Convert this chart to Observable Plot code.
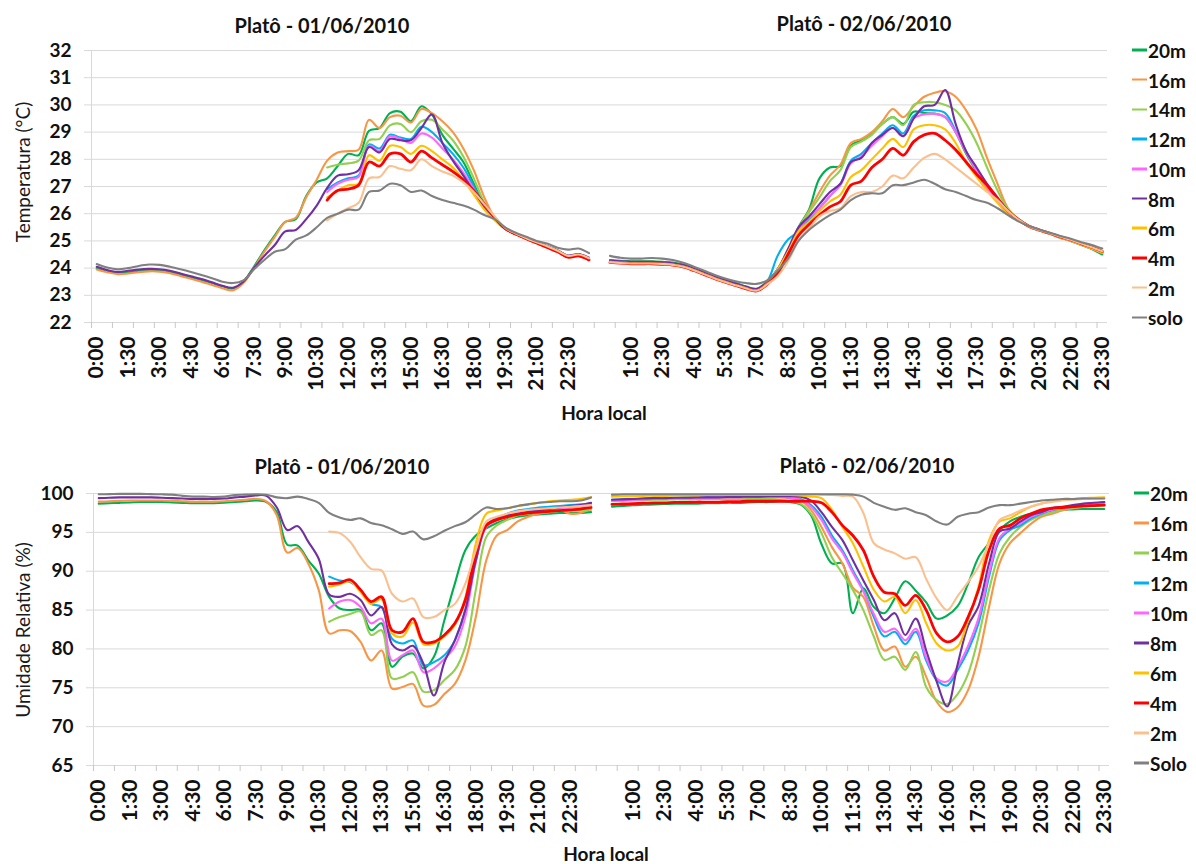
<!DOCTYPE html>
<html><head><meta charset="utf-8">
<script src="https://cdn.jsdelivr.net/npm/d3@7"></script>
<script src="https://cdn.jsdelivr.net/npm/@observablehq/plot@0.6"></script>
<style>
body{margin:0;background:#fff;font-family:Lato,"Open Sans",sans-serif;}
#wrap{position:relative;width:1196px;height:864px;overflow:hidden;background:#fff;}
.abs{position:absolute;white-space:nowrap;line-height:1;}
.title{font-weight:bold;font-size:20px;color:#111;transform:translate(-50%,-50%);}
.ytitle{font-size:19px;color:#1a1a1a;transform:translate(-50%,-50%) rotate(-90deg);}
.xtitle{font-weight:bold;font-size:19px;color:#111;transform:translate(-50%,-50%);}
.leg{font-weight:bold;font-size:19px;color:#111;display:flex;align-items:center;transform:translateY(-50%);}
.leg .sw{display:inline-block;width:15px;height:2.5px;margin-right:1px;}
</style></head>
<body><div id="wrap"></div>
<script>
// ---------- categories / labels ----------
const times = ["0:00","0:30","1:00","1:30","2:00","2:30","3:00","3:30","4:00","4:30","5:00","5:30","6:00","6:30","7:00","7:30","8:00","8:30","9:00","9:30","10:00","10:30","11:00","11:30","12:00","12:30","13:00","13:30","14:00","14:30","15:00","15:30","16:00","16:30","17:00","17:30","18:00","18:30","19:00","19:30","20:00","20:30","21:00","21:30","22:00","22:30","23:00","23:30"];
const xLabelsDay1 = ["0:00","1:30","3:00","4:30","6:00","7:30","9:00","10:30","12:00","13:30","15:00","16:30","18:00","19:30","21:00","22:30"];
const xLabelsDay2 = ["1:00","2:30","4:00","5:30","7:00","8:30","10:00","11:30","13:00","14:30","16:00","17:30","19:00","20:30","22:00","23:30"];
const tempTicks = [22,23,24,25,26,27,28,29,30,31,32];
const humTicks = [65,70,75,80,85,90,95,100];
const seriesTemp = ["20m","16m","14m","12m","10m","8m","6m","4m","2m","solo"];
const seriesHum  = ["20m","16m","14m","12m","10m","8m","6m","4m","2m","Solo"];
const seriesColors = ["#00B050","#F79646","#92D050","#00B0F0","#FF66FF","#7030A0","#FFC000","#FF0000","#FAC090","#808080"];
const titlesTop = ["Platô - 01/06/2010","Platô - 02/06/2010"];
const _ = null;

// ---------- Temperature, day 1 (01/06/2010) ----------
const T1_20m = [24.00,23.90,23.82,23.85,23.90,23.93,23.92,23.86,23.76,23.66,23.56,23.45,23.33,23.25,23.50,24.05,24.65,25.20,25.70,25.80,26.65,27.15,27.30,27.75,28.20,28.15,29.05,29.15,29.70,29.75,29.40,29.95,29.65,28.90,28.40,27.90,27.10,26.30,25.80,25.45,25.25,25.10,24.95,24.80,24.65,24.45,24.50,24.35];
const T1_16m = [23.95,23.85,23.78,23.80,23.85,23.88,23.87,23.81,23.71,23.61,23.50,23.38,23.26,23.18,23.45,24.00,24.60,25.15,25.70,25.85,26.60,27.25,27.95,28.25,28.30,28.35,29.45,29.15,29.55,29.60,29.35,29.85,29.70,29.40,29.00,28.40,27.60,26.60,25.85,25.45,25.25,25.08,24.92,24.77,24.60,24.40,24.45,24.30];
const T1_14m = [_,_,_,_,_,_,_,_,_,_,_,_,_,_,_,_,_,_,_,_,_,_,27.70,27.80,27.85,27.95,28.70,28.75,29.25,29.30,29.00,29.40,29.45,29.10,28.70,28.10,27.30,26.40,25.80,25.45,25.25,25.10,24.95,24.78,24.62,24.42,24.48,24.33];
const T1_12m = [_,_,_,_,_,_,_,_,_,_,_,_,_,_,_,_,_,_,_,_,_,_,26.90,27.15,27.30,27.40,28.55,28.40,28.90,28.80,28.75,29.20,29.00,28.60,28.20,27.70,27.00,26.30,25.80,25.45,25.25,25.10,24.95,24.80,24.64,24.44,24.50,24.36];
const T1_10m = [_,_,_,_,_,_,_,_,_,_,_,_,_,_,_,_,_,_,_,_,_,_,26.80,27.10,27.25,27.35,28.50,28.30,28.85,28.75,28.60,28.95,28.80,28.40,28.00,27.50,26.90,26.25,25.80,25.45,25.25,25.10,24.95,24.80,24.64,24.44,24.50,24.36];
const T1_8m  = [24.05,23.93,23.86,23.90,23.95,23.97,23.96,23.90,23.80,23.70,23.60,23.48,23.35,23.28,23.50,24.00,24.45,24.85,25.35,25.40,25.80,26.30,26.95,27.40,27.45,27.60,28.45,28.25,28.75,28.70,28.70,29.15,29.65,28.60,27.95,27.40,26.80,26.20,25.80,25.45,25.25,25.10,24.95,24.80,24.65,24.46,24.52,24.38];
const T1_6m  = [_,_,_,_,_,_,_,_,_,_,_,_,_,_,_,_,_,_,_,_,_,_,26.60,26.85,27.05,27.10,28.15,27.95,28.50,28.45,28.20,28.50,28.30,28.00,27.70,27.25,26.70,26.15,25.75,25.45,25.25,25.10,24.93,24.78,24.62,24.42,24.47,24.33];
const T1_4m  = [_,_,_,_,_,_,_,_,_,_,_,_,_,_,_,_,_,_,_,_,_,_,26.50,26.85,26.90,27.05,27.90,27.75,28.20,28.20,27.90,28.30,28.05,27.80,27.55,27.25,26.85,26.35,25.85,25.45,25.25,25.08,24.92,24.76,24.60,24.40,24.45,24.30];
const T1_2m  = [_,_,_,_,_,_,_,_,_,_,_,_,_,_,_,_,_,_,_,_,_,_,25.75,26.00,26.20,26.40,27.30,27.35,27.75,27.65,27.60,28.00,27.75,27.55,27.40,27.15,26.80,26.35,25.90,25.48,25.27,25.10,24.95,24.80,24.64,24.45,24.50,24.36];
const T1_solo= [24.15,24.02,23.96,24.00,24.08,24.13,24.12,24.05,23.96,23.86,23.75,23.63,23.50,23.45,23.55,23.95,24.30,24.60,24.70,25.05,25.20,25.50,25.85,26.00,26.15,26.15,26.80,26.85,27.10,27.05,26.80,26.85,26.65,26.50,26.40,26.30,26.15,25.95,25.80,25.50,25.30,25.15,25.00,24.90,24.75,24.68,24.72,24.55];

// ---------- Temperature, day 2 (02/06/2010) ----------
const T2_20m = [24.30,24.27,24.25,24.25,24.25,24.23,24.20,24.13,24.00,23.85,23.70,23.57,23.45,23.32,23.24,23.50,23.95,24.55,25.50,26.15,27.30,27.70,27.75,28.50,28.70,28.95,29.30,29.55,29.30,29.75,29.70,29.68,29.55,29.00,28.20,27.55,26.90,26.50,26.10,25.80,25.55,25.40,25.28,25.12,25.00,24.85,24.70,24.50];
const T2_16m = [24.22,24.19,24.17,24.17,24.17,24.15,24.12,24.05,23.92,23.77,23.62,23.49,23.37,23.25,23.17,23.45,23.90,24.50,25.45,26.10,26.80,27.40,27.80,28.60,28.75,29.00,29.40,29.85,29.55,29.95,30.30,30.45,30.50,30.30,29.80,29.10,28.05,27.10,26.20,25.80,25.55,25.40,25.28,25.14,25.02,24.88,24.75,24.58];
const T2_14m = [24.25,24.22,24.20,24.20,24.20,24.18,24.15,24.08,23.95,23.80,23.65,23.52,23.40,23.28,23.20,23.45,23.95,24.55,25.45,26.05,26.60,27.20,27.60,28.45,28.65,28.90,29.30,29.55,29.25,30.00,30.10,30.10,30.00,29.80,29.30,28.60,27.70,26.85,26.15,25.80,25.55,25.40,25.28,25.13,25.01,24.87,24.73,24.55];
const T2_12m = [24.27,24.24,24.22,24.22,24.22,24.20,24.17,24.10,23.97,23.82,23.67,23.54,23.42,23.30,23.22,23.50,24.45,25.05,25.35,25.80,26.20,26.65,27.10,27.95,28.20,28.60,28.95,29.25,28.95,29.60,29.80,29.80,29.70,29.05,28.30,27.60,26.95,26.45,26.00,25.75,25.52,25.38,25.26,25.12,25.00,24.86,24.72,24.55];
const T2_10m = [24.25,24.22,24.20,24.20,24.20,24.18,24.15,24.08,23.95,23.80,23.65,23.52,23.40,23.28,23.20,23.45,23.95,24.60,25.45,25.85,26.20,26.65,27.05,27.85,28.10,28.50,28.85,29.15,28.85,29.50,29.65,29.67,29.55,29.00,28.25,27.60,26.95,26.45,26.00,25.75,25.52,25.38,25.26,25.12,25.00,24.86,24.72,24.56];
const T2_8m  = [24.28,24.25,24.23,24.23,24.23,24.21,24.18,24.11,23.98,23.83,23.68,23.55,23.43,23.31,23.23,23.48,23.95,24.70,25.50,25.90,26.35,26.80,27.10,27.90,28.05,28.60,28.90,29.15,28.85,29.50,29.95,30.00,30.55,29.30,28.30,27.70,27.10,26.60,26.10,25.78,25.54,25.40,25.28,25.14,25.02,24.88,24.74,24.58];
const T2_6m  = [24.23,24.20,24.18,24.18,24.18,24.16,24.13,24.06,23.93,23.78,23.63,23.50,23.38,23.26,23.18,23.43,23.95,24.60,25.35,25.70,26.10,26.45,26.70,27.35,27.60,28.00,28.40,28.75,28.45,29.10,29.25,29.25,29.10,28.60,27.90,27.35,26.85,26.40,26.00,25.75,25.52,25.38,25.26,25.12,25.00,24.86,24.72,24.56];
const T2_4m  = [24.21,24.18,24.16,24.16,24.16,24.14,24.11,24.04,23.91,23.76,23.61,23.48,23.36,23.24,23.16,23.40,23.80,24.50,25.20,25.60,25.95,26.25,26.45,27.05,27.20,27.70,28.00,28.40,28.15,28.65,28.90,28.95,28.70,28.35,27.90,27.45,27.05,26.55,26.10,25.78,25.54,25.40,25.28,25.15,25.04,24.90,24.77,24.62];
const T2_2m  = [24.22,24.19,24.17,24.17,24.17,24.15,24.12,24.05,23.92,23.77,23.62,23.49,23.37,23.25,23.17,23.40,23.70,24.25,25.00,25.45,25.90,26.10,26.20,26.65,26.80,26.80,27.00,27.40,27.30,27.70,28.05,28.20,28.00,27.70,27.40,27.10,26.80,26.50,26.10,25.78,25.54,25.40,25.28,25.15,25.04,24.90,24.77,24.62];
const T2_solo= [24.45,24.38,24.35,24.35,24.37,24.35,24.30,24.20,24.05,23.90,23.75,23.62,23.52,23.45,23.42,23.55,23.90,24.35,25.00,25.40,25.70,25.95,26.15,26.50,26.70,26.75,26.75,27.05,27.05,27.15,27.25,27.10,26.90,26.80,26.65,26.50,26.40,26.20,25.95,25.72,25.55,25.42,25.30,25.18,25.08,24.95,24.85,24.72];

// ---------- Relative humidity, day 1 ----------
const H1_20m = [98.70,98.75,98.80,98.85,98.90,98.90,98.90,98.85,98.80,98.75,98.75,98.75,98.80,98.90,99.00,99.10,98.90,97.60,93.40,93.30,91.40,89.70,86.70,85.20,85.00,85.00,82.40,83.30,77.70,79.00,79.40,77.50,79.00,83.70,88.40,92.70,94.60,95.50,96.20,96.70,97.00,97.20,97.30,97.40,97.50,97.50,97.50,97.60];
const H1_16m = [98.95,99.00,99.05,99.10,99.10,99.10,99.10,99.05,99.00,98.95,98.95,98.95,99.00,99.10,99.20,99.30,99.00,97.20,92.40,93.00,91.00,87.60,82.00,82.40,82.30,80.90,78.50,79.80,74.90,75.10,75.50,72.70,72.80,74.20,75.50,78.50,84.10,91.40,94.60,95.30,96.40,97.00,97.40,97.60,97.90,97.40,97.50,98.10];
const H1_14m = [_,_,_,_,_,_,_,_,_,_,_,_,_,_,_,_,_,_,_,_,_,_,83.50,84.10,84.50,84.80,81.80,82.40,76.20,76.40,77.00,74.50,74.70,76.00,77.30,80.30,87.60,94.40,95.90,96.60,97.20,97.40,97.60,97.70,97.80,97.80,97.80,97.90];
const H1_12m = [_,_,_,_,_,_,_,_,_,_,_,_,_,_,_,_,_,_,_,_,_,_,89.30,88.80,88.60,87.60,85.80,85.40,81.30,80.70,81.10,77.90,78.30,79.20,81.10,85.00,91.40,95.90,96.80,97.40,97.80,98.00,98.20,98.30,98.40,98.50,98.60,98.70];
const H1_10m = [_,_,_,_,_,_,_,_,_,_,_,_,_,_,_,_,_,_,_,_,_,_,85.20,86.10,86.30,85.40,83.30,83.90,78.50,79.20,79.80,77.00,77.50,78.70,80.30,84.10,91.20,95.70,96.60,97.20,97.50,97.70,97.90,98.00,98.10,98.20,98.30,98.50];
const H1_8m  = [99.40,99.45,99.50,99.50,99.50,99.50,99.45,99.40,99.35,99.30,99.30,99.30,99.35,99.50,99.60,99.75,99.70,98.20,95.30,95.80,93.80,91.60,87.00,86.70,87.10,86.30,84.30,85.40,80.60,79.80,80.40,78.10,74.00,78.30,81.10,85.00,91.40,95.90,96.80,97.20,97.40,97.60,97.80,98.00,98.20,98.40,98.50,98.80];
const H1_6m  = [_,_,_,_,_,_,_,_,_,_,_,_,_,_,_,_,_,_,_,_,_,_,88.00,88.30,88.70,87.30,85.80,86.40,82.00,81.60,83.40,80.60,80.70,81.60,83.10,86.60,93.60,97.40,97.80,98.10,98.40,98.60,98.80,99.00,99.10,99.20,99.30,99.50];
const H1_4m  = [_,_,_,_,_,_,_,_,_,_,_,_,_,_,_,_,_,_,_,_,_,_,88.40,88.50,88.90,87.60,86.10,86.70,82.40,82.20,83.90,80.90,80.90,81.80,83.30,86.30,92.30,95.90,96.60,97.00,97.30,97.50,97.60,97.70,97.80,97.90,98.00,98.20];
const H1_2m  = [_,_,_,_,_,_,_,_,_,_,_,_,_,_,_,_,_,_,_,_,_,_,95.10,94.90,93.80,91.80,90.30,90.10,87.10,86.10,86.50,84.10,84.10,85.00,85.80,88.40,92.70,96.40,97.00,97.40,97.70,97.90,98.00,98.10,98.20,98.30,98.40,98.50];
const H1_solo= [99.90,99.92,99.95,99.95,99.95,99.92,99.90,99.85,99.70,99.60,99.60,99.55,99.60,99.80,99.85,99.90,99.85,99.50,99.40,99.60,99.30,98.80,97.50,96.90,96.60,96.80,96.20,95.90,95.40,94.80,95.10,94.10,94.50,95.20,95.80,96.30,97.30,98.20,98.00,98.10,98.40,98.60,98.80,98.90,99.00,99.00,99.10,99.50];

// ---------- Relative humidity, day 2 ----------
const H2_20m = [98.30,98.40,98.50,98.55,98.60,98.65,98.70,98.70,98.70,98.75,98.75,98.80,98.80,98.85,98.90,98.90,99.00,98.90,98.60,97.20,93.50,91.00,91.00,84.60,87.80,85.40,84.60,86.50,88.70,87.50,86.00,83.90,84.30,85.50,88.40,91.80,93.60,95.30,96.40,97.00,97.40,97.60,97.80,97.90,97.95,98.00,98.00,98.00];
const H2_16m = [99.10,99.20,99.25,99.30,99.35,99.40,99.40,99.45,99.45,99.50,99.50,99.50,99.50,99.50,99.50,99.50,99.50,99.40,99.10,97.90,95.70,93.10,91.00,87.90,86.70,82.90,79.80,80.30,77.70,79.00,76.40,73.20,71.90,72.50,74.70,79.00,85.40,91.00,93.60,94.90,96.10,97.00,97.40,97.80,98.10,98.30,98.40,98.50];
const H2_14m = [99.00,99.05,99.10,99.15,99.20,99.20,99.25,99.25,99.30,99.30,99.30,99.30,99.30,99.30,99.30,99.30,99.20,99.00,98.70,97.40,94.90,91.80,89.70,87.60,85.00,81.60,78.60,79.00,77.30,79.60,75.10,73.40,72.90,74.20,76.80,81.60,87.60,92.30,94.40,95.70,96.60,97.20,97.60,97.90,98.20,98.40,98.50,98.60];
const H2_12m = [99.20,99.25,99.30,99.35,99.40,99.45,99.45,99.50,99.50,99.50,99.55,99.55,99.60,99.60,99.60,99.60,99.60,99.50,99.30,98.50,97.00,94.60,92.70,90.10,87.60,84.10,81.60,82.20,80.60,82.20,78.50,76.00,75.30,77.30,79.80,83.30,89.30,94.00,95.30,95.90,96.80,97.40,97.90,98.10,98.30,98.50,98.70,98.90];
const H2_10m = [99.10,99.15,99.20,99.25,99.30,99.35,99.40,99.40,99.45,99.45,99.50,99.50,99.50,99.55,99.55,99.55,99.55,99.45,99.20,98.30,96.60,94.20,92.40,89.80,87.40,84.50,82.20,82.60,81.10,82.60,78.90,76.20,75.80,77.70,80.40,84.00,89.80,94.30,95.50,96.20,97.00,97.50,97.90,98.10,98.30,98.50,98.60,98.80];
const H2_8m  = [99.20,99.25,99.30,99.35,99.40,99.40,99.45,99.45,99.50,99.50,99.50,99.55,99.55,99.60,99.60,99.65,99.65,99.65,99.60,99.10,97.60,95.70,94.00,91.40,88.80,86.30,83.70,84.60,81.80,83.90,79.80,75.80,72.60,78.00,83.00,85.50,91.00,95.10,95.50,96.40,97.20,97.60,98.10,98.30,98.50,98.70,98.80,98.90];
const H2_6m  = [99.60,99.65,99.65,99.70,99.70,99.70,99.75,99.75,99.75,99.80,99.80,99.80,99.80,99.80,99.80,99.80,99.80,99.80,99.75,99.60,99.40,97.90,95.70,93.60,90.60,87.60,86.10,86.70,84.60,86.30,83.30,80.70,79.80,80.30,83.70,88.00,94.00,96.40,96.80,97.60,98.30,98.70,99.00,99.20,99.30,99.40,99.45,99.50];
const H2_4m  = [98.60,98.65,98.70,98.75,98.80,98.80,98.85,98.85,98.90,98.90,98.90,98.95,98.95,99.00,99.00,99.00,99.00,99.00,99.00,99.00,98.80,97.60,95.90,94.60,92.70,89.30,87.30,87.10,85.60,86.90,85.00,82.00,80.90,81.60,84.10,87.60,92.70,95.50,95.90,96.80,97.40,97.90,98.10,98.20,98.30,98.40,98.45,98.50];
const H2_2m  = [99.80,99.85,99.85,99.90,99.90,99.90,99.90,99.90,99.90,99.90,99.90,99.90,99.90,99.90,99.90,99.90,99.90,99.90,99.90,99.90,99.85,99.80,99.70,99.60,97.50,93.60,92.80,92.30,91.60,91.80,89.00,86.50,85.00,86.80,88.60,90.60,93.60,96.60,97.20,97.80,98.30,98.70,98.90,99.10,99.20,99.30,99.35,99.40];
const H2_solo= [99.85,99.90,99.90,99.90,99.90,99.90,99.90,99.90,99.90,99.90,99.90,99.90,99.90,99.90,99.90,99.90,99.90,99.90,99.90,99.90,99.90,99.90,99.90,99.85,99.60,98.80,98.30,97.90,98.10,97.60,97.20,96.40,96.00,97.00,97.40,97.60,98.20,98.50,98.50,98.70,98.90,99.10,99.20,99.30,99.30,99.35,99.35,99.35];

// ---------- assembly ----------
const tempDay1 = [T1_20m,T1_16m,T1_14m,T1_12m,T1_10m,T1_8m,T1_6m,T1_4m,T1_2m,T1_solo];
const tempDay2 = [T2_20m,T2_16m,T2_14m,T2_12m,T2_10m,T2_8m,T2_6m,T2_4m,T2_2m,T2_solo];
const humDay1  = [H1_20m,H1_16m,H1_14m,H1_12m,H1_10m,H1_8m,H1_6m,H1_4m,H1_2m,H1_solo];
const humDay2  = [H2_20m,H2_16m,H2_14m,H2_12m,H2_10m,H2_8m,H2_6m,H2_4m,H2_2m,H2_solo];

const DAY2_OFFSET = times.length + 1; // one empty category between the two days
const nCat = times.length * 2 + 1;
const labelMap = new Map();
xLabelsDay1.forEach(l => labelMap.set(times.indexOf(l), l));
xLabelsDay2.forEach(l => labelMap.set(DAY2_OFFSET + times.indexOf(l), l));
const labelPos = [...labelMap.keys()];
const tickBounds = d3.range(-0.5, nCat - 1, 2);

const W = 1196, H = 432;
const FONT = "Lato, 'Open Sans', sans-serif";

function panel(day1, day2, names, yDomain, yTicks, m) {
  const marks = [
    Plot.ruleY(yTicks.slice(1), {stroke: "#d9d9d9", strokeWidth: 1}),
    Plot.axisY(yTicks, {tickSize: 7, stroke: "#d9d9d9", tickPadding: 13, fontSize: 19, fontWeight: "bold", fill: "#111", label: null}),
    Plot.ruleX([-0.5], {stroke: "#d9d9d9"}),
    Plot.ruleY([yDomain[0]], {stroke: "#d9d9d9"}),
    Plot.axisX(tickBounds, {tickSize: 6, stroke: "#c8c8c8", tickFormat: () => "", label: null}),
    Plot.axisX(labelPos, {tickSize: 0, tickPadding: 14, tickRotate: -90, tickFormat: i => labelMap.get(i), fontSize: 21, fontWeight: "bold", fill: "#111", label: null})
  ];
  names.forEach((name, si) => {
    const rows = [];
    [day1[si], day2[si]].forEach((arr, d) => arr.forEach((v, k) => {
      if (v != null) rows.push({x: d * DAY2_OFFSET + k, y: v, key: name + "-" + d});
    }));
    marks.push(Plot.line(rows, {x: "x", y: "y", z: "key", stroke: seriesColors[si],
      strokeWidth: name === "4m" ? 2.8 : 2.1, curve: "catmull-rom"}));
  });
  return Plot.plot({
    width: W, height: H, marginLeft: m.left, marginRight: m.right, marginTop: m.top, marginBottom: m.bottom,
    x: {type: "linear", domain: [-0.5, nCat - 0.5], axis: null},
    y: {domain: yDomain, axis: null},
    style: {fontFamily: FONT, color: "#111", background: "transparent"},
    marks
  });
}

const wrap = document.getElementById("wrap");
function addDiv(cls, text, left, topPx) {
  const d = document.createElement("div");
  d.className = "abs " + cls; d.textContent = text;
  d.style.left = left + "px"; d.style.top = topPx + "px";
  wrap.appendChild(d); return d;
}
function addLegend(names, x, y0, step) {
  names.forEach((n, i) => {
    const d = document.createElement("div");
    d.className = "abs leg";
    d.style.left = x + "px"; d.style.top = (y0 + i * step) + "px";
    const sw = document.createElement("span"); sw.className = "sw"; sw.style.background = seriesColors[i];
    d.appendChild(sw); d.appendChild(document.createTextNode(n));
    wrap.appendChild(d);
  });
}

const topSvg = panel(tempDay1, tempDay2, seriesTemp, [22, 32], tempTicks, {left: 91, right: 89, top: 50, bottom: 110});
topSvg.style.position = "absolute"; topSvg.style.left = "0px"; topSvg.style.top = "0px";
wrap.appendChild(topSvg);
const botSvg = panel(humDay1, humDay2, seriesHum, [65, 100], humTicks, {left: 93, right: 87, top: 61, bottom: 99});
botSvg.style.position = "absolute"; botSvg.style.left = "0px"; botSvg.style.top = "432px";
wrap.appendChild(botSvg);

addDiv("title", titlesTop[0], 322, 25);
addDiv("title", titlesTop[1], 864, 23);
addDiv("title", titlesTop[0], 342, 466);
addDiv("title", titlesTop[1], 867, 465);
addDiv("ytitle", "Temperatura (°C)", 22, 172);
addDiv("ytitle", "Umidade Relativa (%)", 22, 630);
addDiv("xtitle", "Hora local", 604, 412);
addDiv("xtitle", "Hora local", 606, 853);
addLegend(seriesTemp, 1132, 50, 29.7);
addLegend(seriesHum, 1134, 493, 30);
</script></body></html>
